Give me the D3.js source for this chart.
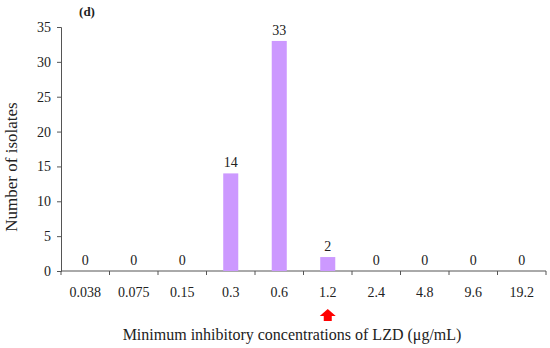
<!DOCTYPE html>
<html>
<head>
<meta charset="utf-8">
<script src="https://cdn.jsdelivr.net/npm/d3@7"></script>
<style>
  body { margin: 0; background: #fff; }
  text { font-family: "Liberation Serif", "DejaVu Serif", serif; fill: #222; }
</style>
</head>
<body>
<div id="chart"></div>
<script>
const categories = ["0.038", "0.075", "0.15", "0.3", "0.6", "1.2", "2.4", "4.8", "9.6", "19.2"];
const isolates = [0, 0, 0, 14, 33, 2, 0, 0, 0, 0];
const yTicks = [0, 5, 10, 15, 20, 25, 30, 35];
const breakpoint = "1.2";

const width = 550, height = 348;
const margin = {top: 27, right: 4, bottom: 77, left: 61};

const svg = d3.select("#chart").append("svg")
    .attr("width", width)
    .attr("height", height);

const x = d3.scaleBand()
    .domain(categories)
    .range([margin.left, width - margin.right])
    .paddingInner(0.69)
    .paddingOuter(0.345);

const xb = d3.scaleBand()
    .domain(categories)
    .range([margin.left, width - margin.right]);

const y = d3.scaleLinear()
    .domain([0, 35])
    .range([height - margin.bottom, margin.top]);

// y axis
const yAxis = svg.append("g")
    .attr("transform", `translate(${margin.left},0)`)
    .call(d3.axisLeft(y).tickValues(yTicks).tickSize(4).tickPadding(6));
yAxis.select(".domain").attr("stroke", "#555");
yAxis.selectAll(".tick line").attr("stroke", "#555");
yAxis.selectAll(".tick text").style("font-size", "14px").attr("fill", "#222");

// x axis with ticks at band boundaries
const base = y(0);
svg.append("line")
    .attr("x1", margin.left).attr("x2", width - margin.right)
    .attr("y1", base).attr("y2", base)
    .attr("stroke", "#555");
const edges = categories.map(c => xb(c)).concat([xb(categories[categories.length - 1]) + xb.bandwidth()]);
svg.selectAll("line.xtick")
    .data(edges)
    .enter().append("line")
    .attr("class", "xtick")
    .attr("x1", d => d).attr("x2", d => d)
    .attr("y1", base).attr("y2", base + 4)
    .attr("stroke", "#555");
svg.selectAll("text.xlab")
    .data(categories)
    .enter().append("text")
    .attr("class", "xlab")
    .attr("x", d => xb(d) + xb.bandwidth() / 2)
    .attr("y", base + 26)
    .attr("text-anchor", "middle")
    .style("font-size", "14px")
    .text(d => d);

// bars
svg.selectAll("rect.bar")
    .data(isolates)
    .enter().append("rect")
    .attr("class", "bar")
    .attr("x", (d, i) => x(categories[i]))
    .attr("y", d => y(d))
    .attr("width", x.bandwidth())
    .attr("height", d => base - y(d))
    .attr("fill", "#cc99ff");

// value labels
svg.selectAll("text.val")
    .data(isolates)
    .enter().append("text")
    .attr("class", "val")
    .attr("x", (d, i) => xb(categories[i]) + xb.bandwidth() / 2)
    .attr("y", d => y(d) - 6)
    .attr("text-anchor", "middle")
    .style("font-size", "14px")
    .text(d => d);

// red arrow under breakpoint
const ax = xb(breakpoint) + xb.bandwidth() / 2;
svg.append("path")
    .attr("d", `M${ax},309 L${ax + 8},316 L${ax + 4},316 L${ax + 4},321 L${ax - 4},321 L${ax - 4},316 L${ax - 8},316 Z`)
    .attr("fill", "#ff0000");

// axis titles
svg.append("text")
    .attr("x", 292)
    .attr("y", 340)
    .attr("text-anchor", "middle")
    .style("font-size", "16px")
    .text("Minimum inhibitory concentrations of LZD (μg/mL)");

svg.append("text")
    .attr("transform", "translate(17,167) rotate(-90)")
    .attr("text-anchor", "middle")
    .style("font-size", "17px")
    .text("Number of isolates");

svg.append("text")
    .attr("x", 87)
    .attr("y", 16)
    .attr("text-anchor", "middle")
    .style("font-size", "13px")
    .style("font-weight", "bold")
    .text("(d)");
</script>
</body>
</html>
